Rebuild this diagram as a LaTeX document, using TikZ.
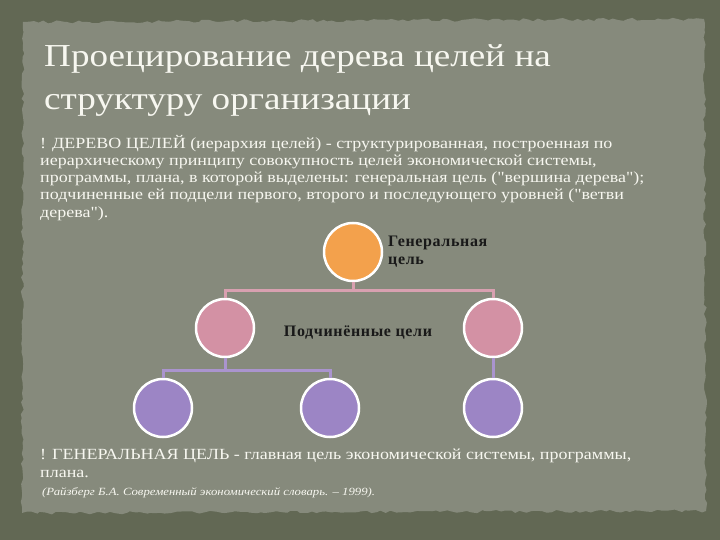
\documentclass[tikz,border=0pt]{standalone}
\usepackage{fontspec}
\setmainfont{Liberation Serif}
\newfontfamily\widefont[FakeStretch=1.16]{Liberation Serif}
\usetikzlibrary{positioning,decorations.pathmorphing}

\definecolor{frame}{RGB}{98,104,84}
\definecolor{panel}{RGB}{134,138,124}
\definecolor{ink}{RGB}{247,247,240}
\definecolor{goalfill}{RGB}{243,161,76}
\definecolor{subfill}{RGB}{211,145,164}
\definecolor{leaffill}{RGB}{156,133,197}
\definecolor{subline}{RGB}{216,160,176}
\definecolor{leafline}{RGB}{170,148,206}

\tikzset{
  goal/.style={circle, draw=white, line width=2.5pt, minimum size=58pt, inner sep=0pt},
  subedge/.style={subline, line width=3pt},
  leafedge/.style={leafline, line width=3pt},
  treelabel/.style={text=black!90, inner sep=0pt,
    font=\bfseries\addfontfeature{LetterSpace=4}\fontsize{16}{18}\selectfont},
  bodytext/.style={text=ink, anchor=north west, align=left, inner sep=0pt,
    font=\widefont\fontsize{15.5}{17.2}\selectfont}
}

\begin{document}
\begin{tikzpicture}[x=1pt, y=-1pt]
  \useasboundingbox (0,0) rectangle (720,540);
  % background and torn panel
  \fill[frame] (0,0) rectangle (720,540);
  \fill[panel, decorate, decoration={random steps, segment length=5pt, amplitude=1.6pt}]
    (23,22) -- (704,19) -- (706,511) -- (22,513) -- cycle;

  % title and text
  \node[text=ink, anchor=north west, align=left, inner sep=0pt,
    font=\widefont\fontsize{32}{43}\selectfont] (title) at (44,44)
    {Проецирование дерева целей на\\структуру организации};
  \node[bodytext] (tree) at (40,135)
    {! ДЕРЕВО ЦЕЛЕЙ (иерархия целей) - структурированная, построенная по\\
     иерархическому принципу совокупность целей экономической системы,\\
     программы, плана, в которой выделены: генеральная цель ("вершина дерева");\\
     подчиненные ей подцели первого, второго и последующего уровней ("ветви\\
     дерева").};

  % the tree
  \node[goal, fill=goalfill] (gen) at (353,252) {};
  \node[goal, fill=subfill] (subL) at (225,328) {};
  \node[goal, fill=subfill] (subR) at (493,328) {};
  \node[goal, fill=leaffill] (leafA) at (163,408) {};
  \node[goal, fill=leaffill] (leafB) at (330,408) {};
  \node[goal, fill=leaffill] (leafC) at (493,408) {};
  \coordinate (bar1) at (353,290);
  \coordinate (bar2) at (225,370);
  \draw[subedge] (gen) -- (bar1) -| (subL);
  \draw[subedge] (bar1) -| (subR);
  \draw[leafedge] (subL) -- (bar2) -| (leafA);
  \draw[leafedge] (bar2) -| (leafB);
  \draw[leafedge] (subR) -- (leafC);
  \node[treelabel, anchor=north west, align=left] (genlabel) at (388,236) {Генеральная\\цель};
  \node[treelabel] (sublabel) at (358,333) {Подчинённые цели};

  % definition and source
  \node[bodytext] (def) at (40,449)
    {! ГЕНЕРАЛЬНАЯ ЦЕЛЬ - главная цель экономической системы, программы,\\плана.};
  \node[text=ink, anchor=north west, inner sep=0pt,
    font=\widefont\itshape\fontsize{11}{13}\selectfont] (src) at (42,487)
    {(Райзберг Б.А. Современный экономический словарь. – 1999).};
\end{tikzpicture}
\end{document}
